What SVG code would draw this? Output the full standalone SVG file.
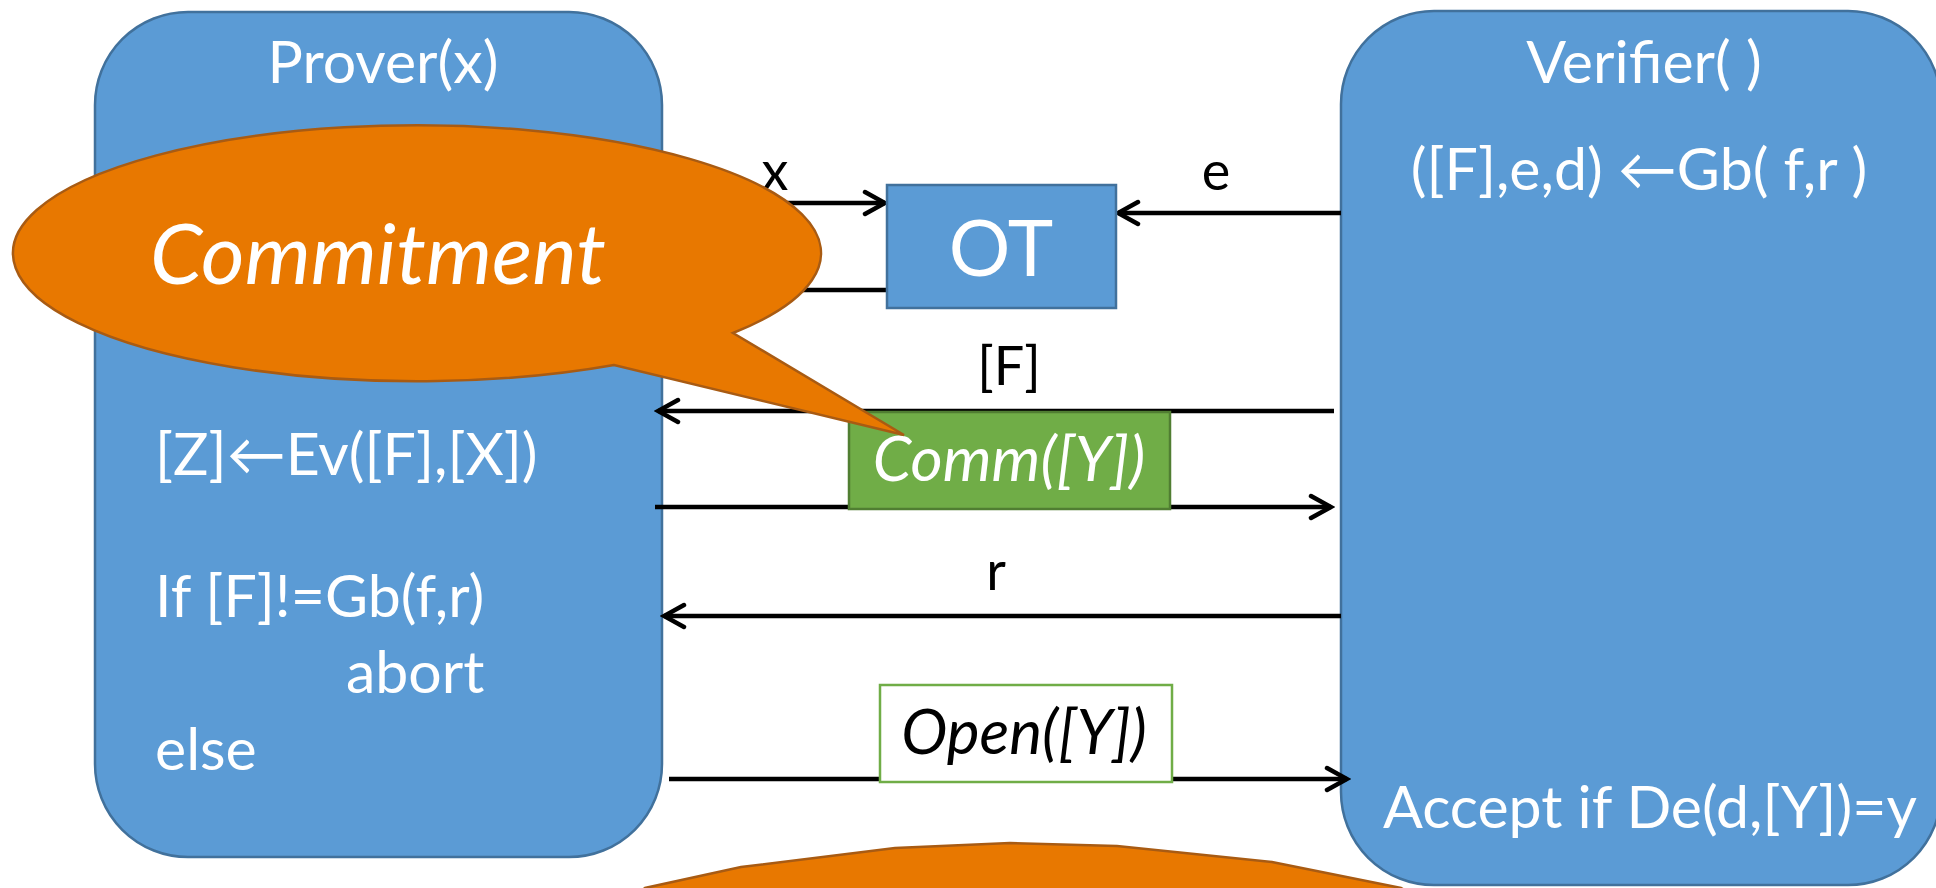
<svg xmlns="http://www.w3.org/2000/svg" width="1936" height="888" viewBox="0 0 1936 888">
  <style>
    .party { fill: #5B9BD5; stroke: #41719C; stroke-width: 2.5; }
    .txt { font-family: Lato, "Open Sans", "Liberation Sans", sans-serif; }
    .w { fill: #FFFFFF; }
    .k { fill: #000000; }
    .body { font-size: 59px; }
    .lbl { font-size: 54px; }
    .it { font-style: italic; }
    .boxed { font-size: 62px; }
    .msg { stroke: #000000; stroke-width: 4.5; fill: none; marker-end: url(#chev); }
    .bubble { fill: #E87800; stroke: #A85B13; stroke-width: 2.5; stroke-linejoin: miter; }
  </style>
  <defs>
    <marker id="chev" markerUnits="userSpaceOnUse" viewBox="-26 -15 30 30" markerWidth="30" markerHeight="30" refX="0" refY="0" orient="auto">
      <path d="M-20,-11 L0,0 L-20,11" fill="none" stroke="#000000" stroke-width="4.5" stroke-linecap="round" stroke-linejoin="miter"/>
    </marker>
  </defs>

  <rect width="1936" height="888" fill="#FFFFFF"/>

  <!-- Prover party -->
  <g id="prover">
    <rect class="party" x="95" y="12" width="567" height="845" rx="93" ry="93"/>
    <text class="txt w body" x="383" y="83" text-anchor="middle">Prover(x)</text>
    <text class="txt w body" x="155" y="475">[Z]←Ev([F],[X])</text>
    <text class="txt w body" x="155" y="617">If [F]!=Gb(f,r)</text>
    <text class="txt w body" x="346" y="693">abort</text>
    <text class="txt w body" x="155" y="770">else</text>
  </g>

  <!-- Verifier party -->
  <g id="verifier">
    <rect class="party" x="1341" y="11" width="600" height="874" rx="93" ry="93"/>
    <text class="txt w body" x="1644" y="83" text-anchor="middle">Verifier( )</text>
    <text class="txt w body" x="1639" y="190" text-anchor="middle">([F],e,d) ←Gb( f,r )</text>
    <text class="txt w body" x="1383" y="828">Accept if De(d,[Y])=y</text>
  </g>

  <!-- Messages between the parties -->
  <g id="connectors">
    <line class="msg" x1="662" y1="203" x2="885" y2="203"/>
    <line class="msg" x1="1341" y1="213" x2="1118" y2="213"/>
    <line class="msg" x1="887" y1="290" x2="666" y2="290"/>
    <line class="msg" x1="1334" y1="411" x2="658" y2="411"/>
    <line class="msg" x1="655" y1="507" x2="1331" y2="507"/>
    <line class="msg" x1="1341" y1="616" x2="664" y2="616"/>
    <line class="msg" x1="669" y1="779" x2="1347" y2="779"/>
    <text class="txt k lbl" x="775" y="190" text-anchor="middle">x</text>
    <text class="txt k lbl" x="1216" y="190" text-anchor="middle">e</text>
    <text class="txt k lbl" x="1009" y="385" text-anchor="middle">[F]</text>
    <text class="txt k lbl" x="996" y="590" text-anchor="middle">r</text>
  </g>

  <!-- Oblivious transfer -->
  <g id="ot">
    <rect x="887" y="185" width="229" height="123" fill="#5B9BD5" stroke="#41719C" stroke-width="2.5"/>
    <text class="txt w" x="1001" y="276" font-size="77" text-anchor="middle">OT</text>
  </g>

  <!-- Commitment message -->
  <g id="comm">
    <rect x="849" y="412" width="321" height="97" fill="#70AD47" stroke="#507E32" stroke-width="2.5"/>
    <text class="txt w boxed it" x="1009" y="481" text-anchor="middle">Comm([Y])</text>
  </g>

  <!-- Opening message -->
  <g id="open">
    <rect x="880" y="685" width="292" height="97" fill="#FFFFFF" stroke="#70AD47" stroke-width="2.5"/>
    <text class="txt k boxed it" x="1024" y="754" text-anchor="middle">Open([Y])</text>
  </g>

  <!-- Callout pointing at the commitment -->
  <g id="callout-commitment">
    <path class="bubble" d="M733,333 L904,435 L614,365 A404,128 0 1 1 733,333 Z"/>
    <text class="txt w it" x="378" y="284" font-size="84" text-anchor="middle">Commitment</text>
  </g>

  <!-- Second callout, rising from the lower edge -->
  <g id="callout-bottom">
    <path class="bubble" d="M640,892 L645,888 L741,867 L895,848 L1010,843 L1117,846 L1272,862 L1401,888 L1408,892 Z"/>
  </g>
</svg>
